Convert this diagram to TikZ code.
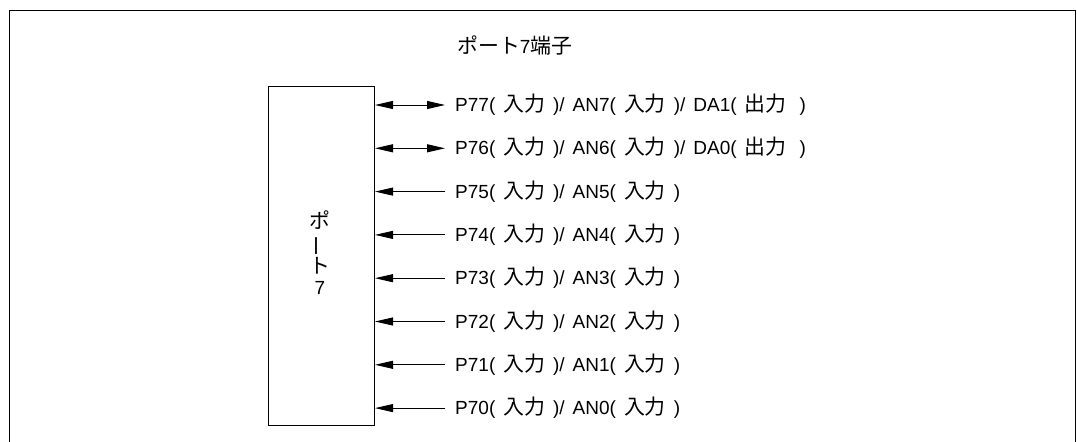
\documentclass[tikz,border=0pt]{standalone}
\usepackage{fontspec}
\setmainfont{Liberation Sans}
\newfontfamily\jp[Scale=1.1]{Noto Sans CJK JP}
\usetikzlibrary{arrows.meta}
\tikzset{
  tip/.tip={Triangle[length=18pt,width=8pt]},
  sig/.style={line width=0.9pt, -tip},
  bidir/.style={line width=0.9pt, tip-tip},
  lbl/.style={anchor=base west, inner sep=0pt, font=\fontsize{19}{22}\selectfont},
}
\newcommand{\gap}{\hspace{8pt}}
\newcommand{\inp}{(\gap{\jp 入力}\gap)}
\newcommand{\outp}{(\gap{\jp 出力}\gap\hspace{5pt})}
\begin{document}
\begin{tikzpicture}[x=1pt,y=-1pt]
\useasboundingbox (0,0) rectangle (1077,442);
\draw[line width=1pt] (9.5,442) -- (9.5,10.5) -- (1075.5,10.5) -- (1075.5,442);
\node[font=\fontsize{19}{22}\selectfont, inner sep=0pt, anchor=west] (title) at (457,45) {{\jp ポート}7{\jp 端子}};
\draw[line width=1pt] (268.5,86) rectangle (374.5,425);
\node[align=center, font=\fontsize{19}{21.5}\selectfont, inner sep=0pt] (port) at (320,253)
  {{\jp ポ}\\\rotatebox[origin=c]{90}{\jp ー}\\{\jp ト}\\7};
\foreach \i/\t [count=\k from 0] in {
  7/{P77\inp/\gap AN7\inp/\gap DA1\outp},
  6/{P76\inp/\gap AN6\inp/\gap DA0\outp},
  5/{P75\inp/\gap AN5\inp},
  4/{P74\inp/\gap AN4\inp},
  3/{P73\inp/\gap AN3\inp},
  2/{P72\inp/\gap AN2\inp},
  1/{P71\inp/\gap AN1\inp},
  0/{P70\inp/\gap AN0\inp}}{
  \pgfmathsetmacro{\yy}{105+43.3*\k}
  \coordinate (e\i) at (375,\yy);
  \coordinate (f\i) at (445,\yy);
  \node[lbl] (l\i) at (455,\yy+6.5) {\t};
}
\draw[bidir] (e7) -- (f7);
\draw[bidir] (e6) -- (f6);
\foreach \i in {5,4,3,2,1,0}{
  \draw[sig] (f\i) -- (e\i);
}
\end{tikzpicture}
\end{document}
